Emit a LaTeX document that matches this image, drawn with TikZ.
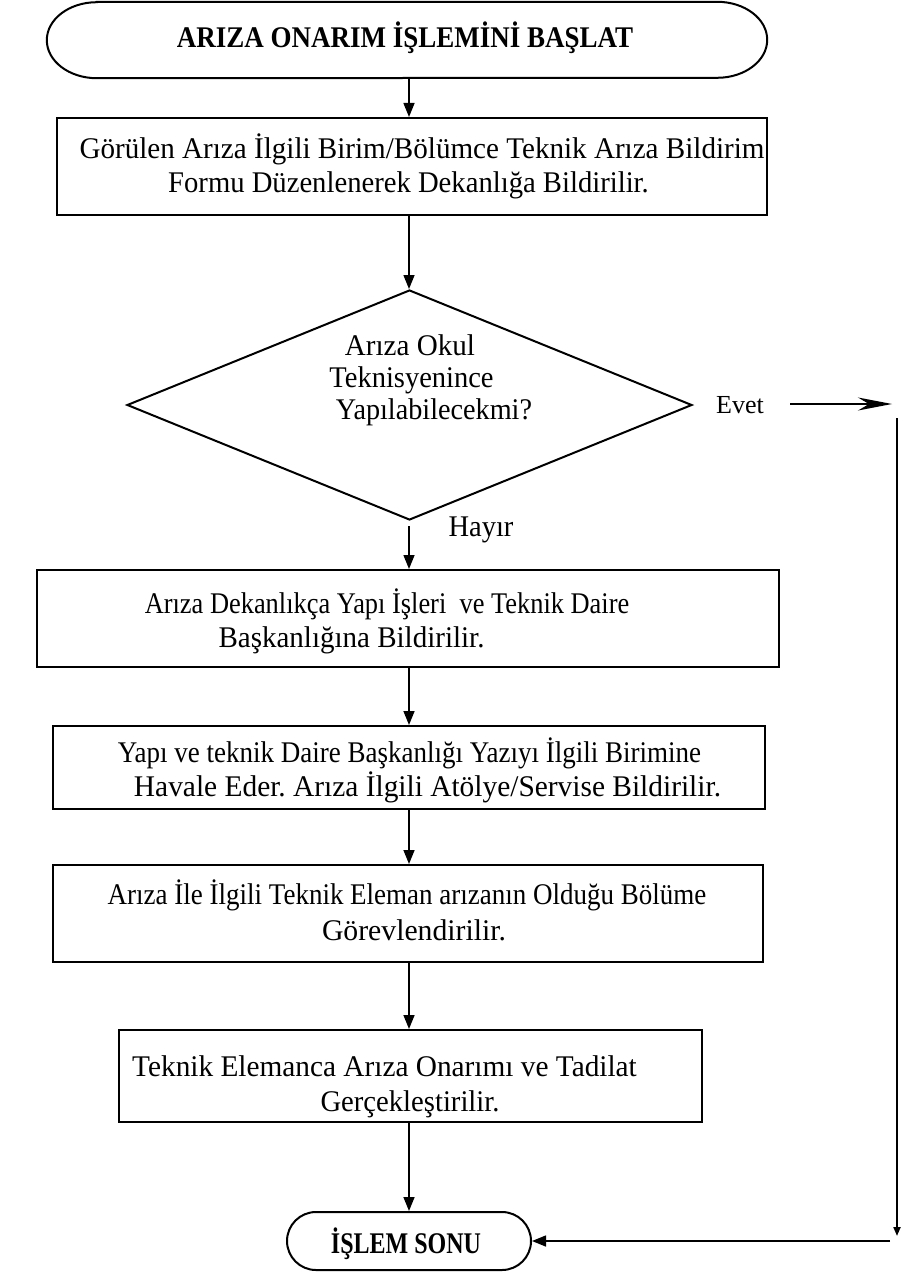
\documentclass[tikz,border=0pt]{standalone}
\usepackage{fontspec}
\setmainfont{Liberation Serif}
\usetikzlibrary{shapes.geometric,arrows.meta,calc}
\frenchspacing

% horizontal squeeze of one line of text
\newcommand{\sqz}[2]{\scalebox{#1}[1]{#2}}

\tikzset{
  frame/.style={draw, line width=2pt, inner sep=0pt},
  boxnode/.style={frame, rectangle},
  txt/.style={inner sep=0pt, anchor=base, font=\fontsize{30}{34}\selectfont},
  btxt/.style={txt, font=\fontsize{30}{34}\selectfont\bfseries},
  arr/.style={line width=1.5pt, -{Triangle[length=14pt,width=11pt]}},
  longarr/.style={line width=1.5pt, -{Stealth[length=34pt,width=13pt,inset=11pt]}},
}

\begin{document}
\begin{tikzpicture}[x=1pt, y=-1pt]
\useasboundingbox (0,0) rectangle (901,1273);
\fill[white] (0,0) rectangle (901,1273);

% column of the main flow
\coordinate (col) at (409,0);

% start terminator: straight top and bottom, elliptic ends
\node[inner sep=0pt, minimum width=720pt, minimum height=76pt] (start) at (407,40) {};
\draw[line width=2pt]
  ($(start.north west)+(50,0)$) -- ($(start.north east)+(-50,0)$)
  arc[start angle=-90, end angle=90, x radius=50, y radius=38]
  -- ($(start.south west)+(50,0)$)
  arc[start angle=90, end angle=270, x radius=50, y radius=38] -- cycle;
\node[btxt] (startT) at (405,48) {\sqz{0.9}{ARIZA ONARIM İŞLEMİNİ BAŞLAT}};

% box 1
\node[boxnode, minimum width=710pt, minimum height=97pt] (b1) at (412,166.5) {};
\node[txt] (b1a) at (422,159) {\sqz{0.97}{Görülen Arıza İlgili Birim/Bölümce Teknik Arıza Bildirim}};
\node[txt] (b1b) at (408.5,193) {\sqz{0.955}{Formu Düzenlenerek Dekanlığa Bildirilir.}};

% decision
\node[frame, diamond, minimum width=565pt, minimum height=230pt] (dec) at (409.5,405) {};
\node[txt] (d1) at (410,355) {\sqz{0.97}{Arıza Okul}};
\node[txt] (d2) at (411.5,387) {\sqz{0.95}{Teknisyenince}};
\node[txt] (d3) at (434,419) {\sqz{0.94}{Yapılabilecekmi?}};
\node[txt, font=\fontsize{26}{30}\selectfont] (evet) at (740,413) {Evet};
\node[txt] (hayir) at (481,536) {\sqz{0.95}{Hayır}};

% box 2
\node[boxnode, minimum width=742pt, minimum height=97pt] (b2) at (408,618.5) {};
\node[txt] (b2a) at (387,613) {\sqz{0.88}{Arıza Dekanlıkça Yapı İşleri\ \ ve Teknik Daire}};
\node[txt] (b2b) at (351.5,647) {\sqz{0.967}{Başkanlığına Bildirilir.}};

% box 3
\node[boxnode, minimum width=712pt, minimum height=83pt] (b3) at (409,767.5) {};
\node[txt] (b3a) at (409.5,762) {\sqz{0.9}{Yapı ve teknik Daire Başkanlığı Yazıyı İlgili Birimine}};
\node[txt] (b3b) at (427.5,796) {\sqz{0.98}{Havale Eder. Arıza İlgili Atölye/Servise Bildirilir.}};

% box 4
\node[boxnode, minimum width=710pt, minimum height=97pt] (b4) at (408,913.5) {};
\node[txt] (b4a) at (407,904) {\sqz{0.9}{Arıza İle İlgili Teknik Eleman arızanın Olduğu Bölüme}};
\node[txt] (b4b) at (414,940) {\sqz{0.99}{Görevlendirilir.}};

% box 5
\node[boxnode, minimum width=583pt, minimum height=92pt] (b5) at (410.5,1076) {};
\node[txt] (b5a) at (384.5,1076) {\sqz{0.977}{Teknik Elemanca Arıza Onarımı ve Tadilat}};
\node[txt] (b5b) at (410,1111) {\sqz{0.955}{Gerçekleştirilir.}};

% end terminator
\node[frame, rectangle, rounded corners=29pt, minimum width=244pt, minimum height=58pt] (end) at (409,1241) {};
\node[btxt] (endT) at (406,1253) {\sqz{0.8}{İŞLEM SONU}};

% main flow connectors
\draw[arr] (col |- start.south) -- (col |- b1.north);
\draw[arr] (col |- b1.south) -- (col |- dec.north);
\draw[arr, shorten <=5pt] (col |- dec.south) -- (col |- b2.north);
\draw[arr] (col |- b2.south) -- (col |- b3.north);
\draw[arr] (col |- b3.south) -- (col |- b4.north);
\draw[arr] (col |- b4.south) -- (col |- b5.north);
\draw[arr] (col |- b5.south) -- (col |- end.north);

% "Evet" branch on the right
\coordinate (e1) at (790,404);
\coordinate (e2) at (892,404);
\coordinate (r1) at (897,418);
\coordinate (r2) at (897,1236);
\coordinate (r3) at (890,1241);
\draw[longarr] (e1) -- (e2);
\draw[line width=2pt, -{Triangle[length=9pt,width=7pt]}] (r1) -- (r2);
\draw[arr] (r3) -- (end.east);
\end{tikzpicture}
\end{document}
